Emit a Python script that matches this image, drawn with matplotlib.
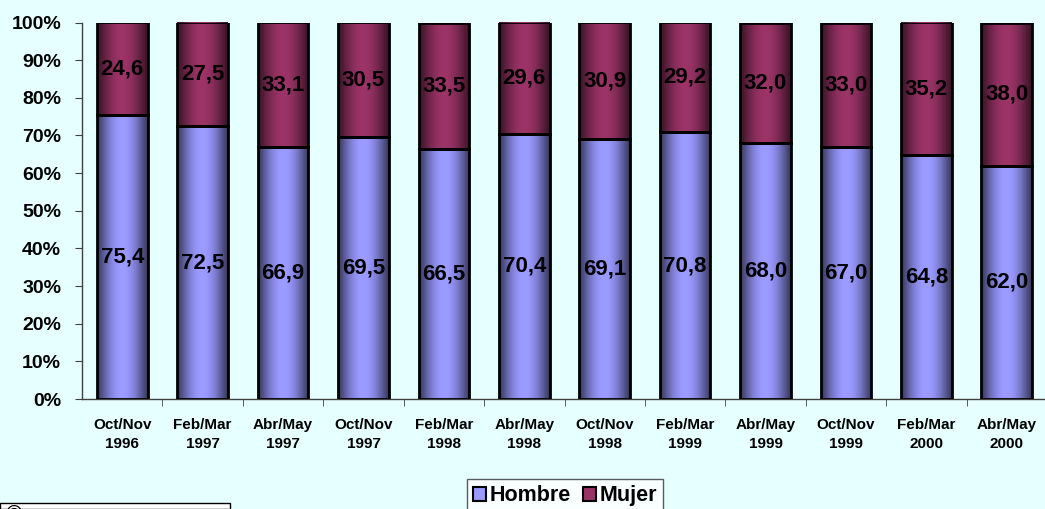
import numpy as np
import matplotlib
matplotlib.use('Agg')
import matplotlib.pyplot as plt
from matplotlib.patches import Patch, Rectangle

# data (percent)
periodos = ['Oct/Nov\n1996', 'Feb/Mar\n1997', 'Abr/May\n1997', 'Oct/Nov\n1997',
            'Feb/Mar\n1998', 'Abr/May\n1998', 'Oct/Nov\n1998', 'Feb/Mar\n1999',
            'Abr/May\n1999', 'Oct/Nov\n1999', 'Feb/Mar\n2000', 'Abr/May\n2000']
hombre = [75.4, 72.5, 66.9, 69.5, 66.5, 70.4, 69.1, 70.8, 68.0, 67.0, 64.8, 62.0]
mujer = [24.6, 27.5, 33.1, 30.5, 33.5, 29.6, 30.9, 29.2, 32.0, 33.0, 35.2, 38.0]
series = ['Hombre', 'Mujer']
colores = ['#9999FF', '#993366']

plt.rcParams['font.family'] = ['Liberation Sans', 'DejaVu Sans']
plt.rcParams['font.weight'] = 'bold'

W, H = 1045, 509
fig = plt.figure(figsize=(W / 100, H / 100), dpi=100)
fondo = '#E6FFFF'
fig.patch.set_facecolor(fondo)

# axes placed in pixel terms of the reference
x0, x1, ytop, ybot = 82, 1047, 22.5, 399
ax = fig.add_axes([x0 / W, 1 - ybot / H, (x1 - x0) / W, (ybot - ytop) / H])
ax.set_facecolor(fondo)

h = np.array(hombre)
m = np.array(mujer)
tot = h + m
hp = h / tot * 100
mp = m / tot * 100
x = np.arange(len(periodos))
ancho = 0.63


def cilindro(color):
    # horizontal shading: dark edges, light centre
    rgb = np.array(matplotlib.colors.to_rgb(color))
    t = np.linspace(0, 1, 120)
    f = 0.32 + 0.70 * np.sin(np.pi * (0.02 + 0.96 * t)) ** 1.1
    img = np.clip(f[None, :, None] * rgb[None, None, :], 0, 1)
    return np.repeat(img, 4, axis=0)


bottoms = [np.zeros(len(x)), hp]
for vals, base, col in zip([hp, mp], bottoms, colores):
    bars = ax.bar(x, vals, bottom=base, width=ancho, facecolor='none',
                  edgecolor='black', linewidth=2, zorder=3)
    img = cilindro(col)
    for b in bars:
        bx, by = b.get_x(), b.get_y()
        im = ax.imshow(img, extent=[bx, bx + b.get_width(), by, by + b.get_height()],
                       aspect='auto', zorder=2, interpolation='nearest', origin='lower')
        im.set_clip_path(b)

# value labels centred in each segment
for i in range(len(x)):
    ax.text(x[i], hp[i] / 2, f'{hombre[i]:.1f}'.replace('.', ','),
            ha='center', va='center', fontsize=16, fontweight='bold', zorder=4)
    ax.text(x[i], hp[i] + mp[i] / 2, f'{mujer[i]:.1f}'.replace('.', ','),
            ha='center', va='center', fontsize=16, fontweight='bold', zorder=4)

ax.set_xlim(-0.5, len(x) - 0.5)
ax.set_ylim(0, 100)
ax.set_yticks(np.arange(0, 101, 10))
ax.set_yticklabels([f'{v}%' for v in range(0, 101, 10)], fontsize=14, fontweight='bold')
ax.set_xticks(x)
ax.set_xticklabels(periodos, fontsize=11, fontweight='bold', linespacing=1.45)
ax.set_xticks(np.arange(0.5, len(x) - 0.5, 1), minor=True)
ax.tick_params(axis='x', which='major', length=0, pad=14)
ax.tick_params(axis='x', which='minor', length=5, color='#404040', direction='out')
ax.tick_params(axis='y', length=5, color='#404040', pad=10)
for s in ['top', 'right']:
    ax.spines[s].set_visible(False)
for s in ['left', 'bottom']:
    ax.spines[s].set_color('#404040')
    ax.spines[s].set_linewidth(1)

handles = [Patch(facecolor=c, edgecolor='black', linewidth=1.5) for c in colores]
leg = fig.legend(handles, series, loc='upper center', ncol=2,
                 bbox_to_anchor=(565 / W, 1 - 479 / H),
                 prop={'size': 15.5, 'weight': 'bold'}, frameon=True, fancybox=False,
                 handlelength=0.6, handleheight=0.6, handletextpad=0.15,
                 columnspacing=0.6, borderpad=0.3, borderaxespad=0)
leg.get_frame().set_edgecolor('#333333')
leg.get_frame().set_facecolor('white')
leg.get_frame().set_linewidth(1)

# partly visible box at the lower left corner
fig.patches.append(Rectangle((0, 0), 230 / W, 1 - 503 / H, transform=fig.transFigure,
                             facecolor='white', edgecolor='black', linewidth=1))
fig.text(6 / W, 1 - 505 / H, '\u00a9', fontsize=16, va='top', ha='left')

fig.savefig('out.png', dpi=100, facecolor=fig.get_facecolor())
